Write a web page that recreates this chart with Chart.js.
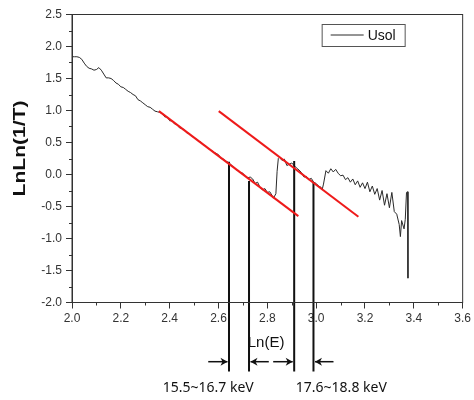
<!DOCTYPE html>
<html>
<head>
<meta charset="utf-8">
<script src="https://cdn.jsdelivr.net/npm/chart.js@4.4.0/dist/chart.umd.min.js"></script>
<style>
  body { margin: 0; background: #fff; }
  canvas { display: block; }
</style>
</head>
<body>
<canvas id="lnChart" width="474" height="400"></canvas>
<script>
// measured curve (Usol)
const curveX = [
  2.00, 2.01, 2.02, 2.03, 2.04, 2.05, 2.06, 2.07, 2.08, 2.09,
  2.10, 2.11, 2.12, 2.13, 2.14, 2.15, 2.16, 2.17, 2.18, 2.19,
  2.20, 2.21, 2.22, 2.23, 2.24, 2.25, 2.26, 2.27, 2.28, 2.29,
  2.30, 2.31, 2.32, 2.33, 2.34, 2.35, 2.36, 2.37, 2.38, 2.39,
  2.40, 2.41, 2.42, 2.43, 2.44, 2.45, 2.46, 2.47, 2.48, 2.49,
  2.50, 2.51, 2.52, 2.53, 2.54, 2.55, 2.56, 2.57, 2.58, 2.59,
  2.60, 2.61, 2.62, 2.63, 2.64, 2.65, 2.66, 2.67, 2.68, 2.69,
  2.70, 2.71, 2.72, 2.73, 2.74, 2.75, 2.76, 2.77, 2.78, 2.79,
  2.80, 2.81, 2.82, 2.825, 2.835, 2.84, 2.845, 2.85, 2.86, 2.87,
  2.88, 2.89, 2.90, 2.91, 2.92, 2.93, 2.94, 2.95, 2.96, 2.97,
  2.98, 2.99, 3.00, 3.01, 3.02, 3.025, 3.03, 3.04, 3.05, 3.06,
  3.07, 3.08, 3.09, 3.10, 3.11, 3.12, 3.13, 3.14, 3.15, 3.16,
  3.17, 3.18, 3.19, 3.20, 3.21, 3.22, 3.23, 3.24, 3.25, 3.26,
  3.27, 3.28, 3.29, 3.30, 3.31, 3.32, 3.33, 3.34, 3.345, 3.35,
  3.36, 3.365, 3.37, 3.375, 3.376
];
const curveY = [
  1.84, 1.84, 1.84, 1.83, 1.80, 1.74, 1.69, 1.66, 1.65, 1.63,
  1.64, 1.67, 1.63, 1.57, 1.51, 1.51, 1.50, 1.47, 1.43, 1.41,
  1.37, 1.36, 1.33, 1.30, 1.28, 1.25, 1.23, 1.17, 1.15, 1.12,
  1.09, 1.06, 1.05, 1.02, 0.99, 0.98, 0.97, 0.95, 0.90, 0.90,
  0.84, 0.84, 0.79, 0.78, 0.73, 0.72, 0.70, 0.65, 0.64, 0.60,
  0.58, 0.55, 0.52, 0.50, 0.46, 0.44, 0.40, 0.38, 0.35, 0.33,
  0.31, 0.25, 0.24, 0.21, 0.19, 0.16, 0.12, 0.09, 0.05, 0.03,
  0.02, -0.03, -0.05, -0.04, -0.07, -0.14, -0.12, -0.20, -0.24, -0.22,
  -0.28, -0.27, -0.33, -0.37, -0.30, 0.05, 0.25, 0.27, 0.22, 0.24,
  0.14, 0.16, 0.18, 0.14, 0.10, 0.07, 0.03, -0.04, -0.03, -0.08,
  -0.06, -0.12, -0.14, -0.18, -0.20, -0.23, -0.15, 0.06, 0.02, 0.09,
  0.04, 0.08, 0.02, -0.02, -0.01, -0.08, -0.05, -0.12, -0.07, -0.16,
  -0.10, -0.20, -0.13, -0.22, -0.12, -0.27, -0.18, -0.31, -0.22, -0.40,
  -0.25, -0.48, -0.30, -0.52, -0.28, -0.58, -0.62, -0.78, -0.97, -0.72,
  -0.85, -0.70, -0.28, -0.27, -1.62
];

// red fitted lines
const fitStartX = [2.356, 2.601];
const fitStartY = [0.99, 0.99];
const fitEndX = [2.927, 3.173];
const fitEndY = [-0.65, -0.66];

// black vertical markers
const markerX = [2.643, 2.725, 2.910, 2.989];
const markerTop = [0.20, -0.10, 0.21, -0.13];
const markerBottom = -3.08;

// arrows pointing at the markers
const arrowFrom = [2.558, 2.806, 2.824, 3.071];
const arrowY = -2.925;

const energyLabels = ['15.5~16.7 keV', '17.6~18.8 keV'];
const energyLabelX = [2.558, 3.103];
const energyLabelY = -3.34;

const xTitle = 'Ln(E)';
const xTitlePos = [2.795, -2.63];
const yTitle = 'LnLn(1/T)';
const seriesName = 'Usol';

const xMin = 2.0, xMax = 3.6, xStep = 0.2;
const yMin = -2.0, yMax = 2.5, yStep = 0.5;

const FONT = '"Liberation Sans", Arial, sans-serif';

const pts = (xs, ys) => xs.map((x, i) => ({ x: x, y: ys[i] }));

const datasets = [];
fitStartX.forEach((x, i) => {
  datasets.push({
    label: 'fit' + i,
    data: [{ x: x, y: fitStartY[i] }, { x: fitEndX[i], y: fitEndY[i] }],
    borderColor: '#ee1a1a',
    borderWidth: 2,
    order: 0
  });
});
markerX.forEach((x, i) => {
  datasets.push({
    label: 'marker' + i,
    data: [{ x: x, y: markerTop[i] }, { x: x, y: markerBottom }],
    borderColor: '#111',
    borderWidth: 2,
    clip: false,
    order: 1
  });
});
datasets.push({
  label: seriesName,
  data: pts(curveX, curveY),
  borderColor: '#2a2a2a',
  borderWidth: 1,
  order: 2
});

const decor = {
  id: 'decor',
  afterDraw(chart) {
    const ctx = chart.ctx;
    const a = chart.chartArea;
    const xs = chart.scales.x, ys = chart.scales.y;
    ctx.save();
    // frame
    ctx.strokeStyle = '#333';
    ctx.lineWidth = 1;
    ctx.strokeRect(a.left, a.top, a.right - a.left, a.bottom - a.top);
    // minor ticks
    ctx.beginPath();
    for (let v = xMin + xStep / 2; v < xMax; v += xStep) {
      const px = Math.round(xs.getPixelForValue(v)) + 0.5;
      ctx.moveTo(px, a.bottom); ctx.lineTo(px, a.bottom + 3);
    }
    for (let v = yMin + yStep / 2; v < yMax; v += yStep) {
      const py = Math.round(ys.getPixelForValue(v)) + 0.5;
      ctx.moveTo(a.left, py); ctx.lineTo(a.left - 3, py);
    }
    ctx.stroke();

    // arrows
    ctx.strokeStyle = '#111';
    ctx.fillStyle = '#111';
    ctx.lineWidth = 1.5;
    const ay = ys.getPixelForValue(arrowY);
    arrowFrom.forEach((fx, i) => {
      const x0 = xs.getPixelForValue(fx);
      const x1 = xs.getPixelForValue(markerX[i]) + (fx < markerX[i] ? -1.5 : 1.5);
      const dir = x1 > x0 ? 1 : -1;
      ctx.beginPath();
      ctx.moveTo(x0, ay); ctx.lineTo(x1, ay);
      ctx.stroke();
      ctx.beginPath();
      ctx.moveTo(x1, ay);
      ctx.lineTo(x1 - dir * 7, ay - 4);
      ctx.lineTo(x1 - dir * 5, ay);
      ctx.lineTo(x1 - dir * 7, ay + 4);
      ctx.closePath();
      ctx.fill();
    });

    // texts
    ctx.fillStyle = '#111';
    ctx.textAlign = 'center';
    ctx.textBaseline = 'middle';
    ctx.font = '15px ' + FONT;
    ctx.fillText(xTitle, xs.getPixelForValue(xTitlePos[0]), ys.getPixelForValue(xTitlePos[1]));
    ctx.font = '14px "Noto Sans", sans-serif';
    energyLabels.forEach((t, i) => {
      ctx.fillText(t, xs.getPixelForValue(energyLabelX[i]), ys.getPixelForValue(energyLabelY));
    });
    // rotated y title, stretched to the reference length
    ctx.save();
    ctx.translate(21, (a.top + a.bottom) / 2 - 10);
    ctx.rotate(-Math.PI / 2);
    ctx.font = 'bold 16px ' + FONT;
    const tw = ctx.measureText(yTitle).width;
    ctx.scale(96 / tw, 1);
    ctx.fillText(yTitle, 0, 0);
    ctx.restore();

    // legend box
    const lx = a.right - 141, ly = a.top + 9.5, lw = 83, lh = 22;
    ctx.fillStyle = '#fff';
    ctx.fillRect(lx, ly, lw, lh);
    ctx.strokeStyle = '#555';
    ctx.lineWidth = 1;
    ctx.strokeRect(lx + 0.5, ly + 0.5, lw, lh);
    ctx.strokeStyle = '#2a2a2a';
    ctx.beginPath();
    ctx.moveTo(lx + 9, ly + 11); ctx.lineTo(lx + 42, ly + 11);
    ctx.stroke();
    ctx.fillStyle = '#111';
    ctx.textAlign = 'left';
    ctx.font = '14px ' + FONT;
    ctx.fillText(seriesName, lx + 46, ly + 12);
    ctx.restore();
  }
};

new Chart(document.getElementById('lnChart'), {
  type: 'scatter',
  data: { datasets: datasets },
  options: {
    responsive: false,
    animation: false,
    events: [],
    showLine: true,
    elements: { point: { radius: 0 }, line: { tension: 0 } },
    layout: { padding: { top: 14.5, right: 9, left: 0, bottom: 0 } },
    plugins: {
      legend: { display: false },
      tooltip: { enabled: false }
    },
    scales: {
      x: {
        type: 'linear',
        min: xMin,
        max: xMax,
        afterFit: (s) => { s.height = 97.5; },
        border: { color: '#333', width: 1 },
        grid: { drawOnChartArea: false, tickLength: 6, color: '#333' },
        ticks: {
          stepSize: xStep,
          padding: 3,
          color: '#333',
          font: { family: FONT, size: 12 },
          maxRotation: 0,
          callback: (v) => v.toFixed(1)
        }
      },
      y: {
        type: 'linear',
        min: yMin,
        max: yMax,
        afterFit: (s) => { s.width = 72; },
        border: { color: '#333', width: 1 },
        grid: { drawOnChartArea: false, tickLength: 6, color: '#333' },
        ticks: {
          stepSize: yStep,
          padding: 4,
          color: '#333',
          font: { family: FONT, size: 12 },
          callback: (v) => v.toFixed(1)
        }
      }
    }
  },
  plugins: [decor]
});
</script>
</body>
</html>
